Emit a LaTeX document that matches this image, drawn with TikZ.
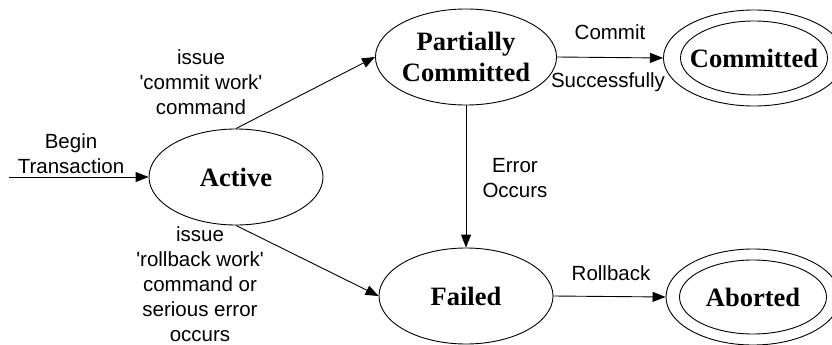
\documentclass[tikz,border=0pt]{standalone}
\usepackage{fontspec}
\setmainfont{Liberation Serif}
\newfontfamily\lblfont{Liberation Sans}
\usetikzlibrary{shapes.geometric,arrows.meta}
\begin{document}
\begin{tikzpicture}[x=1pt,y=-1pt,
  state/.style={ellipse,draw,line width=0.9pt,minimum width=174pt,minimum height=96pt,inner sep=0pt,
    font=\fontsize{26.5}{31}\selectfont\bfseries,align=center},
  innerstate/.style={ellipse,draw,line width=0.9pt,minimum width=147pt,minimum height=74pt,inner sep=0pt},
  lbl/.style={font=\lblfont\fontsize{20.5}{25}\selectfont,align=center,inner sep=0pt},
  arr/.style={line width=0.9pt,-{Triangle[length=13pt,width=10pt]}}]
\useasboundingbox (0,0) rectangle (832,345);
\node[state] (active) at (236,177) {Active};
\node[state] (pc) at (466,57) {Partially\\Committed};
\node[state] (failed) at (466,296) {Failed};
\node[state] (committed) at (754,58) {Committed};
\node[innerstate] (committedin) at (754,58) {};
\node[state] (aborted) at (753,297) {Aborted};
\node[innerstate] (abortedin) at (753,297) {};
\coordinate (start) at (9,177);
\draw[arr] (start) -- (active.west);
\draw[arr] (active.north) -- (pc.west);
\draw[arr] (active.south) -- (failed.west);
\draw[arr] (pc.south) -- (failed.north);
\draw[arr] (pc.east) -- (committed.west);
\draw[arr] (failed.east) -- (aborted.west);
\node[lbl] (lbegin) at (71,154) {Begin\\Transaction};
\node[lbl] (lcommitwork) at (201,82) {issue\\'commit work'\\command};
\node[lbl] (lrollbackwork) at (200,284) {issue\\'rollback work'\\command or\\serious error\\occurs};
\node[lbl] (lerror) at (515,178) {Error\\Occurs};
\node[lbl] (lcommit) at (610,32) {Commit};
\node[lbl] (lsucc) at (608,82) {Successfully};
\node[lbl] (lrollback) at (611,273) {Rollback};
\end{tikzpicture}
\end{document}
